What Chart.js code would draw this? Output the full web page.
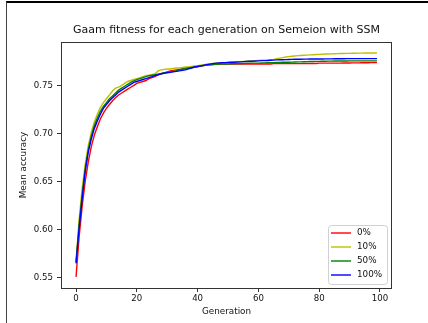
<!DOCTYPE html>
<html>
<head>
<meta charset="utf-8">
<script src="https://cdn.jsdelivr.net/npm/chart.js@4/dist/chart.umd.min.js"></script>
<style>
  body { margin: 0; background: #fff; }
  #wrap { position: relative; width: 428px; height: 323px; }
  #frame {
    position: absolute; left: 6px; top: 1px; right: 0; bottom: 0;
    border-top: 2px solid #000; border-left: 1px solid #444;
    pointer-events: none;
  }
</style>
</head>
<body>
<div id="wrap">
  <canvas id="chart" width="428" height="323"></canvas>
  <div id="frame"></div>
</div>
<script>
// mean accuracy per generation
const red = [
  0.551, 0.592, 0.624, 0.650, 0.670, 0.686, 0.698, 0.707, 0.715, 0.721,
  0.726, 0.730, 0.734, 0.737, 0.740, 0.742, 0.744, 0.746, 0.748, 0.750,
  0.752, 0.753, 0.754, 0.755, 0.757, 0.758, 0.759, 0.761, 0.762, 0.763,
  0.764, 0.765, 0.7655, 0.766, 0.7665, 0.767, 0.7675, 0.768, 0.7685, 0.769,
  0.7695, 0.770, 0.7705, 0.771, 0.7712, 0.7715, 0.7718, 0.772, 0.772, 0.772,
  0.772, 0.772, 0.772, 0.772, 0.772, 0.772, 0.772, 0.7722, 0.7722, 0.7722,
  0.7722, 0.7722, 0.7722, 0.7722, 0.7722, 0.7725, 0.7725, 0.7725, 0.7725, 0.7725,
  0.7725, 0.7725, 0.7725, 0.7725, 0.7725, 0.7727, 0.7727, 0.7727, 0.7727, 0.7727,
  0.773, 0.773, 0.773, 0.773, 0.773, 0.773, 0.773, 0.773, 0.7732, 0.7732,
  0.7732, 0.7733, 0.7733, 0.7733, 0.7734, 0.7735, 0.7735, 0.7736, 0.7736, 0.7736
];
const yellow = [
  0.567, 0.610, 0.643, 0.668, 0.687, 0.701, 0.712, 0.720, 0.727, 0.732,
  0.736, 0.740, 0.744, 0.747, 0.748, 0.750, 0.752, 0.754, 0.755, 0.756,
  0.757, 0.758, 0.759, 0.760, 0.7605, 0.761, 0.762, 0.765, 0.766, 0.7665,
  0.767, 0.767, 0.7675, 0.768, 0.768, 0.7685, 0.769, 0.769, 0.7695, 0.770,
  0.7705, 0.771, 0.7715, 0.772, 0.7725, 0.7728, 0.773, 0.7732, 0.7734, 0.7736,
  0.7738, 0.774, 0.7742, 0.7744, 0.7746, 0.7748, 0.775, 0.7752, 0.7754, 0.7756,
  0.7758, 0.776, 0.7762, 0.7764, 0.7766, 0.777, 0.7776, 0.7782, 0.7788, 0.7794,
  0.7798, 0.7802, 0.7805, 0.7808, 0.781, 0.7812, 0.7814, 0.7816, 0.7818, 0.782,
  0.7821, 0.7823, 0.7825, 0.7826, 0.7827, 0.7828, 0.7829, 0.783, 0.7831, 0.7832,
  0.7832, 0.7833, 0.7833, 0.7834, 0.7834, 0.7835, 0.7835, 0.7836, 0.7836, 0.7836
];
const green = [
  0.566, 0.605, 0.636, 0.663, 0.683, 0.697, 0.708, 0.716, 0.723, 0.728,
  0.732, 0.736, 0.739, 0.742, 0.745, 0.747, 0.749, 0.751, 0.753, 0.7545,
  0.756, 0.757, 0.758, 0.759, 0.760, 0.7605, 0.761, 0.7615, 0.762, 0.763,
  0.7635, 0.764, 0.7645, 0.765, 0.766, 0.767, 0.7675, 0.768, 0.7685, 0.769,
  0.7695, 0.770, 0.7705, 0.771, 0.7712, 0.7715, 0.7718, 0.772, 0.772, 0.7722,
  0.7722, 0.7724, 0.7724, 0.7725, 0.7726, 0.7727, 0.7728, 0.7729, 0.773, 0.773,
  0.7731, 0.7732, 0.7733, 0.7734, 0.7735, 0.7736, 0.7737, 0.7738, 0.7739, 0.774,
  0.774, 0.7741, 0.7742, 0.7743, 0.7744, 0.7745, 0.7746, 0.7747, 0.7748, 0.7749,
  0.7749, 0.775, 0.775, 0.7751, 0.7751, 0.7752, 0.7752, 0.7753, 0.7753, 0.7753,
  0.7754, 0.7754, 0.7754, 0.7754, 0.7754, 0.7754, 0.7754, 0.7754, 0.7754, 0.7754
];
const blue = [
  0.565, 0.601, 0.632, 0.660, 0.680, 0.694, 0.705, 0.713, 0.720, 0.726,
  0.730, 0.734, 0.737, 0.740, 0.743, 0.745, 0.747, 0.749, 0.751, 0.753,
  0.754, 0.755, 0.756, 0.757, 0.758, 0.759, 0.760, 0.761, 0.762, 0.7625,
  0.763, 0.7635, 0.764, 0.7645, 0.765, 0.7655, 0.766, 0.767, 0.768, 0.769,
  0.7695, 0.770, 0.771, 0.7715, 0.772, 0.7725, 0.773, 0.7732, 0.7734, 0.7736,
  0.7738, 0.774, 0.774, 0.7742, 0.7744, 0.7746, 0.7748, 0.775, 0.775, 0.7752,
  0.7754, 0.7756, 0.7757, 0.7758, 0.776, 0.7762, 0.7764, 0.7765, 0.7766, 0.7767,
  0.7768, 0.7769, 0.777, 0.777, 0.7771, 0.7772, 0.7772, 0.7773, 0.7773, 0.7774,
  0.7774, 0.7774, 0.7775, 0.7775, 0.7775, 0.7776, 0.7776, 0.7776, 0.7776, 0.7777,
  0.7777, 0.7777, 0.7777, 0.7777, 0.7777, 0.7777, 0.7777, 0.7777, 0.7777, 0.7777
];
const seriesLabels = ['0%', '10%', '50%', '100%'];
const xTicks = [0, 20, 40, 60, 80, 100];
const yTicks = [0.55, 0.60, 0.65, 0.70, 0.75];

const generations = red.map((_, i) => i);
const FONT = 'DejaVu Sans';
const INK = '#111';

function series(label, data, color, order) {
  return {
    label: label, data: data, borderColor: color, backgroundColor: color,
    borderWidth: 1.4, pointRadius: 0, tension: 0, order: order
  };
}

// matplotlib-style axes box
const boxPlugin = {
  id: 'box',
  afterDraw(chart) {
    const {ctx, chartArea: a} = chart;
    ctx.save();
    ctx.strokeStyle = '#333';
    ctx.lineWidth = 1;
    ctx.strokeRect(Math.round(a.left) + 0.5, Math.round(a.top) + 0.5,
      Math.round(a.right - a.left) - 1, Math.round(a.bottom - a.top));
    ctx.restore();
  }
};

// legend in lower right, inside the axes
const legendPlugin = {
  id: 'innerLegend',
  afterDatasetsDraw(chart) {
    const {ctx, chartArea: a} = chart;
    const w = 59, h = 59;
    const x = a.right - 5 - w, y = a.bottom - 4 - h;
    ctx.save();
    ctx.beginPath();
    ctx.roundRect(x + 0.5, y + 0.5, w, h, 3);
    ctx.fillStyle = 'rgba(255,255,255,0.8)';
    ctx.fill();
    ctx.strokeStyle = '#d0d0d0';
    ctx.lineWidth = 1;
    ctx.stroke();
    ctx.font = '8.8px "' + FONT + '"';
    ctx.textBaseline = 'middle';
    ctx.fillStyle = INK;
    chart.data.datasets.forEach((ds, i) => {
      const ly = y + 8 + i * 14;
      ctx.strokeStyle = ds.borderColor;
      ctx.lineWidth = 1.4;
      ctx.beginPath();
      ctx.moveTo(x + 3, ly);
      ctx.lineTo(x + 23, ly);
      ctx.stroke();
      ctx.fillText(ds.label, x + 29, ly);
    });
    ctx.restore();
  }
};

new Chart(document.getElementById('chart'), {
  type: 'line',
  data: {
    labels: generations,
    datasets: [
      series(seriesLabels[0], red, '#ff0000', 4),
      series(seriesLabels[1], yellow, '#bfbf00', 3),
      series(seriesLabels[2], green, '#008000', 2),
      series(seriesLabels[3], blue, '#0000ff', 1)
    ]
  },
  options: {
    responsive: false,
    animation: false,
    layout: { padding: { left: 0, right: 36, top: 0, bottom: 0 } },
    plugins: {
      legend: { display: false },
      tooltip: { enabled: false },
      title: {
        display: true,
        fullSize: false,
        text: 'Gaam fitness for each generation on Semeion with SSM',
        color: INK,
        font: { family: FONT, size: 11, weight: 'normal' },
        padding: { top: 23.9, bottom: 4.9 }
      }
    },
    scales: {
      x: {
        type: 'linear',
        min: -4.95, max: 103.95,
        afterFit(s) { s.height = 35; },
        afterBuildTicks(s) { s.ticks = xTicks.map(v => ({ value: v })); },
        border: { display: false },
        grid: { drawOnChartArea: false, drawTicks: true, tickLength: 4, color: '#333' },
        ticks: { color: INK, padding: 2, maxRotation: 0, font: { family: FONT, size: 8.6 } },
        title: {
          display: true, text: 'Generation', color: INK,
          font: { family: FONT, size: 8.8 }, padding: { top: 0, bottom: 6.3 }
        }
      },
      y: {
        min: 0.5394, max: 0.795,
        afterFit(s) { s.width = 61; },
        afterBuildTicks(s) { s.ticks = yTicks.map(v => ({ value: v })); },
        border: { display: false },
        grid: { drawOnChartArea: false, drawTicks: true, tickLength: 4, color: '#333' },
        ticks: {
          color: INK, padding: 4, font: { family: FONT, size: 8.6 },
          callback: v => v.toFixed(2)
        },
        title: {
          display: true, text: 'Mean accuracy', color: INK,
          font: { family: FONT, size: 8.8 }, padding: { top: 18.7, bottom: 0 }
        }
      }
    }
  },
  plugins: [boxPlugin, legendPlugin]
});
</script>
</body>
</html>
